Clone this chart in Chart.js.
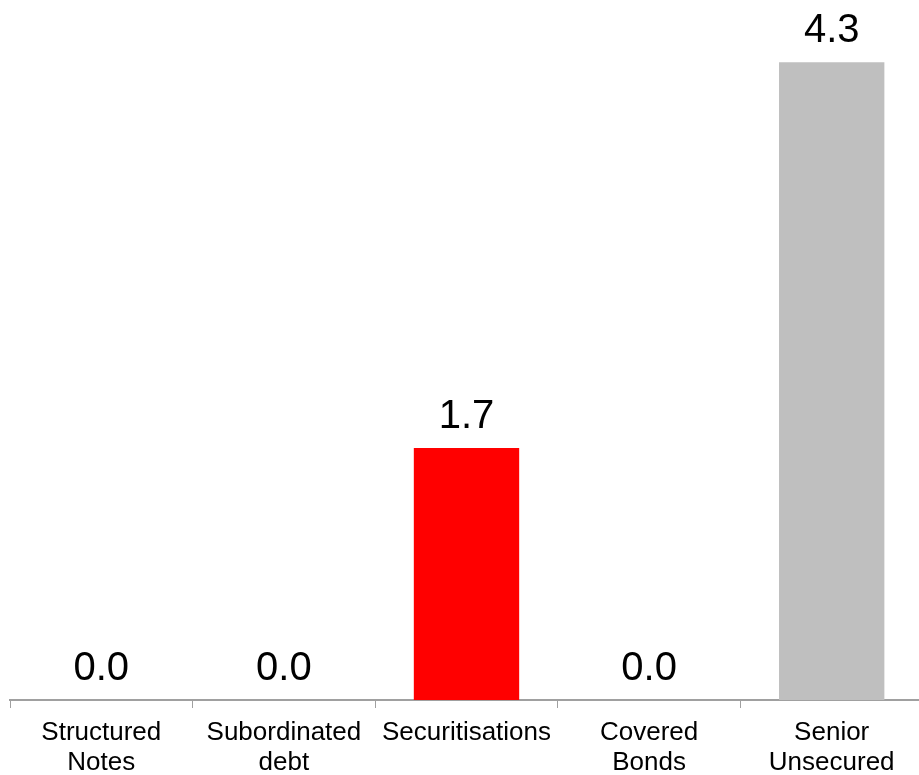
<!DOCTYPE html>
<html>
<head>
<meta charset="utf-8">
<script src="https://cdn.jsdelivr.net/npm/chart.js@4/dist/chart.umd.min.js"></script>
<style>
  html, body { margin: 0; padding: 0; background: #fff; overflow: hidden; width: 919px; height: 775px; }
  #wrap { position: absolute; left: 0; top: 0; width: 924px; height: 775px; }
  canvas { display: block; }
</style>
</head>
<body>
<div id="wrap"><canvas id="c" width="924" height="775"></canvas></div>
<script>
// Issuance by instrument type
const categories = [
  ['Structured', 'Notes'],
  ['Subordinated', 'debt'],
  'Securitisations',
  ['Covered', 'Bonds'],
  ['Senior', 'Unsecured']
];
const values = [0.0, 0.0, 1.7, 0.0, 4.3];
const barColors = ['#FF0000', '#FF0000', '#FF0000', '#BFBFBF', '#BFBFBF'];

const FONT = '"Liberation Sans", Arial, Helvetica, sans-serif';

// Value labels drawn above each bar
const valueLabels = {
  id: 'valueLabels',
  afterDatasetsDraw(chart) {
    const ctx = chart.ctx;
    const meta = chart.getDatasetMeta(0);
    ctx.save();
    ctx.font = '40px ' + FONT;
    ctx.fillStyle = '#000';
    ctx.textAlign = 'center';
    ctx.textBaseline = 'alphabetic';
    meta.data.forEach((bar, i) => {
      ctx.fillText(values[i].toFixed(1), bar.x, bar.y - 20);
    });
    ctx.restore();
  }
};

new Chart(document.getElementById('c'), {
  type: 'bar',
  data: {
    labels: categories,
    datasets: [{
      data: values,
      backgroundColor: barColors,
      borderWidth: 0,
      barPercentage: 0.577,
      categoryPercentage: 1.0
    }]
  },
  options: {
    responsive: false,
    animation: false,
    devicePixelRatio: 1,
    layout: { padding: { left: 10, right: 1, top: 0, bottom: 0 } },
    plugins: { legend: { display: false }, tooltip: { enabled: false } },
    scales: {
      x: {
        offset: true,
        grid: {
          offset: true,
          drawOnChartArea: false,
          drawTicks: true,
          tickLength: 8,
          color: '#A0A0A0',
          lineWidth: 1
        },
        border: { display: true, color: '#A0A0A0', width: 2 },
        ticks: {
          color: '#000',
          font: { family: FONT, size: 26, lineHeight: 1.15 },
          padding: 10,
          maxRotation: 0,
          autoSkip: false
        },
        afterFit(scale) { scale.height = 75; }
      },
      y: {
        display: false,
        min: 0,
        max: 4.72
      }
    }
  },
  plugins: [valueLabels]
});
</script>
</body>
</html>
